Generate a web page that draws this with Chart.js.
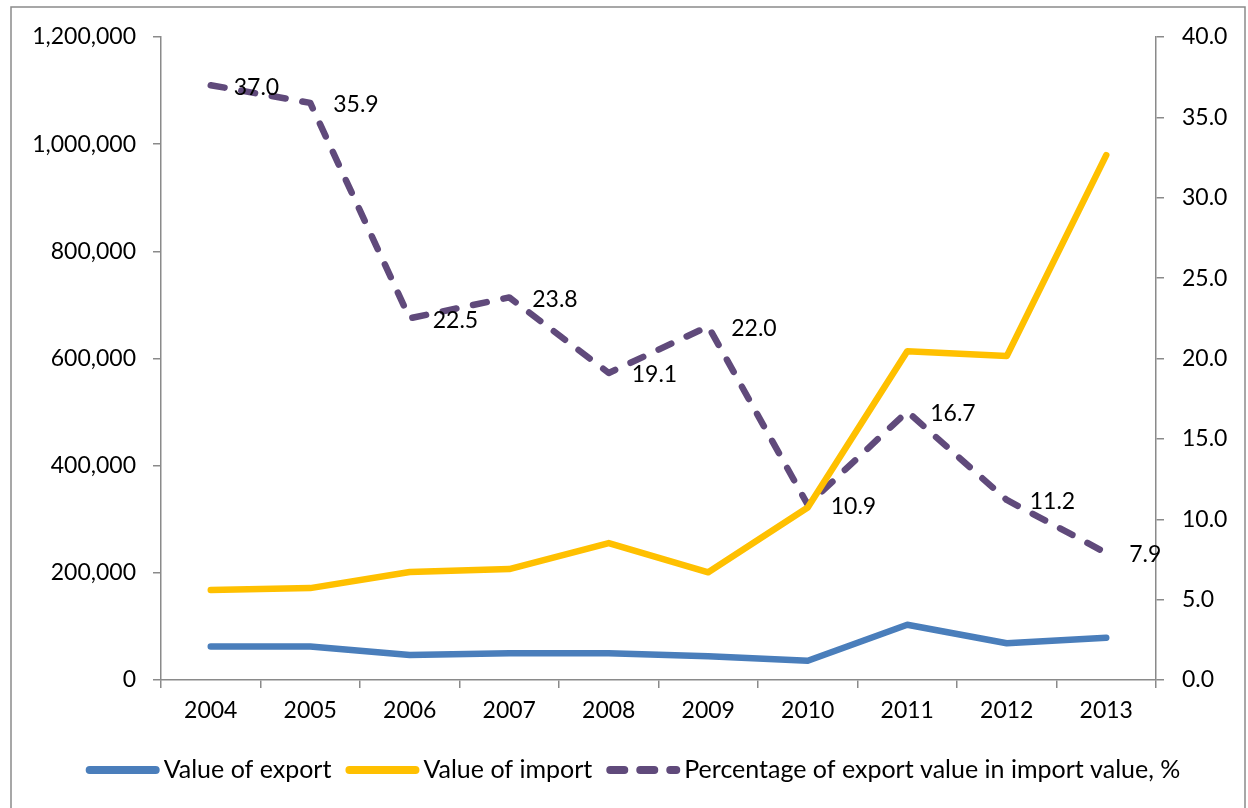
<!DOCTYPE html>
<html>
<head>
<meta charset="utf-8">
<script src="https://cdn.jsdelivr.net/npm/chart.js@4.4.1/dist/chart.umd.min.js"></script>
<style>
  html, body { margin: 0; padding: 0; background: #fff; }
  canvas { display: block; }
</style>
</head>
<body>
<canvas id="tradeChart" width="1248" height="808"></canvas>
<script>
// Yearly trade values and export share of imports
const years = ['2004', '2005', '2006', '2007', '2008', '2009', '2010', '2011', '2012', '2013'];
const exportValue = [62500, 62500, 46500, 50000, 50000, 44500, 36000, 103000, 68500, 79000];
const importValue = [168000, 171500, 201500, 207000, 255500, 201000, 322000, 613500, 604500, 979500];
const exportShare = [37.0, 35.9, 22.5, 23.8, 19.1, 22.0, 10.9, 16.7, 11.2, 7.9];

const FONT = 'Lato';
const AXIS_GREY = '#8a8a8a';

// frame around the whole chart
const framePlugin = {
  id: 'frame',
  beforeDraw(chart) {
    const ctx = chart.ctx;
    ctx.save();
    ctx.fillStyle = '#fff';
    ctx.fillRect(0, 0, chart.width, chart.height);
    ctx.strokeStyle = AXIS_GREY;
    ctx.lineWidth = 1.5;
    ctx.strokeRect(11, 7, 1234, 830);
    ctx.restore();
  }
};

// value labels to the right of each percentage point
const shareLabels = {
  id: 'shareLabels',
  afterDatasetsDraw(chart) {
    const ctx = chart.ctx;
    const meta = chart.getDatasetMeta(2);
    ctx.save();
    ctx.font = '23px ' + FONT;
    ctx.fillStyle = '#000';
    ctx.textAlign = 'left';
    ctx.textBaseline = 'middle';
    meta.data.forEach((pt, i) => {
      ctx.fillText(exportShare[i].toFixed(1), pt.x + 23, pt.y + 2);
    });
    ctx.restore();
  }
};

// legend along the bottom, line samples drawn with each series' colour and dash
const bottomLegend = {
  id: 'bottomLegend',
  afterDraw(chart) {
    const ctx = chart.ctx;
    const sets = chart.data.datasets;
    const sample = 74, lw = 8, gapText = 4, gapItem = 14;
    ctx.save();
    ctx.font = '25px ' + FONT;
    let total = 0;
    sets.forEach((ds, i) => {
      total += sample + gapText + ctx.measureText(ds.label).width;
      if (i < sets.length - 1) total += gapItem;
    });
    let x = 633 - total / 2;
    const y = 770;
    sets.forEach(ds => {
      ctx.beginPath();
      ctx.strokeStyle = ds.borderColor;
      ctx.lineWidth = lw;
      ctx.lineCap = 'round';
      ctx.setLineDash(ds.borderDash ? [14, 16] : []);
      ctx.moveTo(x + lw / 2, y);
      ctx.lineTo(x + sample - lw / 2, y);
      ctx.stroke();
      ctx.setLineDash([]);
      x += sample + gapText;
      ctx.fillStyle = '#000';
      ctx.textBaseline = 'middle';
      ctx.fillText(ds.label, x, y);
      x += ctx.measureText(ds.label).width + gapItem;
    });
    ctx.restore();
  }
};

const axisLine = { color: AXIS_GREY, width: 1.5 };
const tickGrid = {
  drawOnChartArea: false,
  drawTicks: true,
  tickLength: 8,
  color: AXIS_GREY,
  lineWidth: 1.5
};

new Chart(document.getElementById('tradeChart'), {
  type: 'line',
  data: {
    labels: years,
    datasets: [
      {
        label: 'Value of export',
        data: exportValue,
        borderColor: '#4a7ebb',
        borderWidth: 6.5,
        borderCapStyle: 'round',
        borderJoinStyle: 'round',
        pointRadius: 0,
        yAxisID: 'y'
      },
      {
        label: 'Value of import',
        data: importValue,
        borderColor: '#ffc000',
        borderWidth: 6.5,
        borderCapStyle: 'round',
        borderJoinStyle: 'round',
        pointRadius: 0,
        yAxisID: 'y'
      },
      {
        label: 'Percentage of export value in import value, %',
        data: exportShare,
        borderColor: '#604a7b',
        borderWidth: 6.5,
        borderDash: [14, 17],
        borderCapStyle: 'round',
        borderJoinStyle: 'round',
        pointRadius: 0,
        yAxisID: 'y2'
      }
    ]
  },
  options: {
    responsive: false,
    animation: false,
    layout: { padding: { top: 37, left: 0, right: 0, bottom: 0 } },
    plugins: {
      legend: { display: false },
      tooltip: { enabled: false }
    },
    scales: {
      x: {
        offset: true,
        grid: Object.assign({ offset: true }, tickGrid),
        border: axisLine,
        ticks: { color: '#000', font: { family: FONT, size: 23 }, padding: 9, maxRotation: 0 },
        afterFit: s => { s.height = 128; }
      },
      y: {
        position: 'left',
        min: 0,
        max: 1200000,
        grid: tickGrid,
        border: axisLine,
        ticks: {
          stepSize: 200000,
          color: '#000',
          font: { family: FONT, size: 23 },
          padding: 17,
          callback: v => v.toLocaleString('en-US')
        },
        afterFit: s => { s.width = 161; }
      },
      y2: {
        position: 'right',
        min: 0,
        max: 40,
        grid: tickGrid,
        border: axisLine,
        ticks: {
          stepSize: 5,
          color: '#000',
          font: { family: FONT, size: 23 },
          padding: 18,
          callback: v => v.toFixed(1)
        },
        afterFit: s => { s.width = 92; }
      }
    }
  },
  plugins: [framePlugin, shareLabels, bottomLegend]
});
</script>
</body>
</html>
